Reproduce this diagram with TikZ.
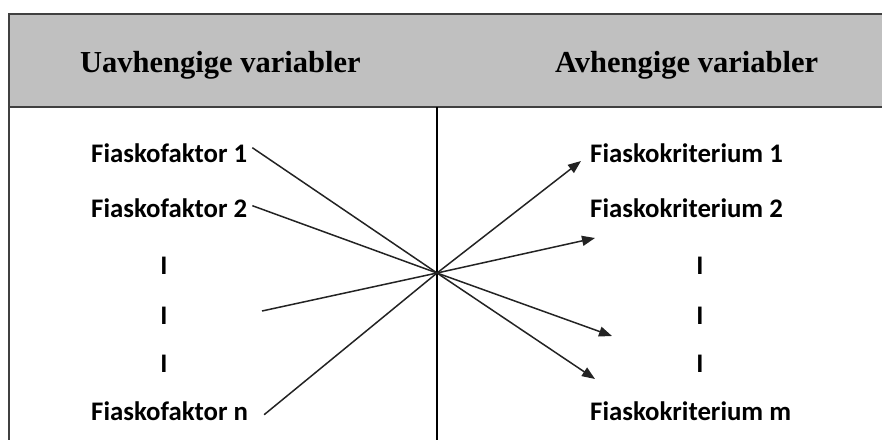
\documentclass[tikz,border=0pt]{standalone}
\usepackage{fontspec}
\setmainfont{Carlito}
\newfontfamily\headfont{Liberation Serif}
\usetikzlibrary{arrows.meta}
\definecolor{hdrgray}{RGB}{192,192,192}
\definecolor{framegray}{RGB}{64,64,64}
\definecolor{linegray}{RGB}{35,35,35}
\tikzset{
  head/.style={font=\headfont\bfseries\fontsize{30.5}{34}\selectfont, inner sep=0pt, anchor=base west},
  item/.style={font=\bfseries\fontsize{26.8}{30}\selectfont, inner sep=0pt, anchor=base west},
  bar/.style={font=\bfseries\fontsize{26.8}{30}\selectfont, inner sep=0pt, anchor=base},
  link/.style={draw=linegray, line width=1.5pt},
  arr/.style={link, -{Triangle[length=13pt,width=10pt]}},
  frame/.style={draw=framegray, line width=2pt}
}
\begin{document}
\begin{tikzpicture}[x=1pt,y=-1pt]
\useasboundingbox (0,0) rectangle (882,439);
\clip (0,0) rectangle (882,439);
% header
\fill[hdrgray] (9,14) rectangle (900,107);
\draw[frame] (900,14) -- (9,14) -- (9,460);
\draw[frame] (9,107) -- (900,107);
\draw[black, line width=1.6pt] (437,107) -- (437,460);
% headers
\node[head] (h1) at (80,72) {Uavhengige variabler};
\node[head] (h2) at (555,72) {Avhengige variabler};
% left items
\node[item] (f1) at (91,162) {Fiaskofaktor 1};
\node[item] (f2) at (91,217) {Fiaskofaktor 2};
\node[item] (fn) at (91,420) {Fiaskofaktor n};
\node[bar] (lb1) at (164,274) {I};
\node[bar] (lb2) at (164,324) {I};
\node[bar] (lb3) at (164,372) {I};
% right items
\node[item] (k1) at (590,162) {Fiaskokriterium 1};
\node[item] (k2) at (590,217) {Fiaskokriterium 2};
\node[item] (km) at (590,420) {Fiaskokriterium m};
\node[bar] (rb1) at (700,274) {I};
\node[bar] (rb2) at (700,324) {I};
\node[bar] (rb3) at (700,372) {I};
% coordinates
\coordinate (c) at (437,273);
\coordinate (l3) at (262,311);
\coordinate (t1) at (581,161);
\coordinate (t2) at (595,238);
\coordinate (t3) at (612,336);
\coordinate (t4) at (595,379);
% connectors
\draw[link] ([shift={(5pt,5pt)}]f1.east) -- (c);
\draw[link] ([shift={(5pt,2pt)}]f2.east) -- (c);
\draw[link] (l3) -- (c);
\draw[link] ([shift={(16pt,-4pt)}]fn.east) -- (c);
\draw[arr] (c) -- (t1);
\draw[arr] (c) -- (t2);
\draw[arr] (c) -- (t3);
\draw[arr] (c) -- (t4);
\end{tikzpicture}
\end{document}
